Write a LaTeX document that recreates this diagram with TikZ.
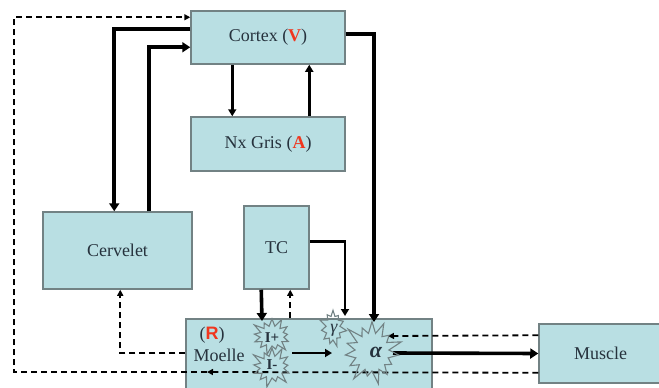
\documentclass[tikz,border=0pt]{standalone}
\usepackage{fontspec}
\setmainfont{Liberation Serif}
\newfontfamily\sansR{Liberation Sans}
\usetikzlibrary{shapes.symbols,calc,arrows.meta}
\definecolor{boxfill}{HTML}{B9DFE3}
\definecolor{boxline}{HTML}{728284}
\definecolor{txt}{HTML}{26323D}
\definecolor{redt}{HTML}{F0361E}
\begin{document}
\begin{tikzpicture}[x=1pt,y=-1pt,
  box/.style={draw=boxline,fill=boxfill,line width=1.5pt,inner sep=0pt,
    font=\fontsize{18}{21}\selectfont,text=txt},
  burst/.style={starburst,draw=boxline,line width=1.1pt,inner sep=0pt,text=txt},
  arr/.style={line width=2.6pt,-{Triangle[length=7pt,width=8pt]}},
  arrbig/.style={line width=3.6pt,-{Triangle[length=8pt,width=10pt]}},
  dsh/.style={line width=1.8pt,dash pattern=on 6pt off 4pt,-{Triangle[length=6pt,width=6pt]}},
  lbl/.style={text=txt,inner sep=0pt}
]
\useasboundingbox (0,0) rectangle (659,388);
\pgfmathsetseed{11}
% boxes
\node[box,minimum width=154pt,minimum height=53pt] (cortex) at (268,37.5)
  {Cortex (\textcolor{redt}{\textbf{V}})};
\node[box,minimum width=154pt,minimum height=54pt] (nxgris) at (268,144)
  {Nx Gris (\textcolor{redt}{\textbf{A}})};
\node[box,minimum width=149pt,minimum height=77pt] (cervelet) at (117.5,250.5) {Cervelet};
\node[box,minimum width=65pt,minimum height=83pt] (tc) at (276.5,247.5) {TC};
\node[box,minimum width=246pt,minimum height=81pt] (moelle) at (309,359.5) {};
\node[box,minimum width=123pt,minimum height=59pt] (muscle) at (600.5,353.5) {Muscle};
% moelle labels
\node[lbl,font=\fontsize{18}{21}\selectfont] (rlabel) at (212,335)
  {(\textcolor{redt}{\sansR\bfseries R})};
\node[lbl,font=\fontsize{18}{21}\selectfont] (moellelabel) at (219,355) {Moelle};
% coordinates
\coordinate (cnrb) at (14,372);
\coordinate (mdl) at (207,372);
\coordinate (atop) at (374,322);
\coordinate (gtop) at (345,316);
\coordinate (iptop) at (262,321);
\coordinate (imr) at (292,353);
\coordinate (aleft) at (332,353);
\coordinate (aright) at (393,353);
\coordinate (ardsh) at (388,336);
% dashed connectors
\draw[dsh] ($(muscle.south west)+(0,-11)$) -- (mdl);
\draw[dsh] (mdl) -- (cnrb) |- ($(cortex.north west)+(0,7)$);
\draw[dsh] ($(muscle.north west)+(0,12)$) -- (ardsh);
\draw[dsh] ($(moelle.north west)+(0,35)$) -| ($(cervelet.south west)+(78,0)$);
\draw[dsh] ($(moelle.north west)+(105,0)$) -- ($(tc.south west)+(47,0)$);
% solid connectors
\draw[arrbig] ($(cortex.north west)+(0,19)$) -| ($(cervelet.north west)+(72,0)$);
\draw[arrbig] ($(cervelet.north west)+(107,0)$) |- ($(cortex.north west)+(0,37)$);
\draw[arr] ($(cortex.south west)+(42,0)$) -- ($(nxgris.north west)+(42,0)$);
\draw[arr] ($(nxgris.north west)+(119,0)$) -- ($(cortex.south west)+(119,0)$);
\draw[arrbig] ($(cortex.north east)+(0,24)$) -| (atop);
\draw[arr] ($(tc.north east)+(0,36)$) -| (gtop);
\draw[arrbig] ($(tc.south west)+(18,0)$) -- (iptop);
\draw[arr] (imr) -- (aleft);
\draw[arrbig] (aright) -- (muscle.west);
% starbursts
\node[burst,minimum width=44pt,minimum height=40pt,starburst points=13,starburst point height=10pt] (iplus) at (272,336) {};
\node[burst,minimum width=46pt,minimum height=44pt,starburst points=13,starburst point height=11pt] (iminus) at (272,367) {};
\node[burst,minimum width=30pt,minimum height=40pt,starburst points=11,starburst point height=8pt] (gammaburst) at (333,328) {};
\node[burst,minimum width=66pt,minimum height=70pt,starburst points=15,starburst point height=16pt] (alphaburst) at (372,352) {};
\node[lbl,font=\fontsize{15}{17}\selectfont\bfseries] (iplustxt) at (272,338) {I+};
\node[lbl,font=\fontsize{15}{17}\selectfont\bfseries] (iminustxt) at (272,365) {I-};
\node[lbl,font=\fontsize{18}{21}\selectfont\itshape] (gammatxt) at (334,330) {γ};
\node[lbl,font=\fontsize{22}{25}\selectfont\bfseries\itshape] (alphatxt) at (376,352) {α};
\end{tikzpicture}
\end{document}
